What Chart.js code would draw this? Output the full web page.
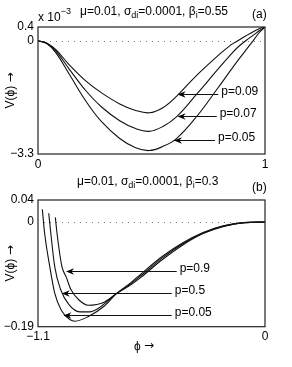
<!DOCTYPE html>
<html><head><meta charset="utf-8">
<script src="https://cdn.jsdelivr.net/npm/chart.js@4.4.1/dist/chart.umd.min.js"></script>
<style>
html,body{margin:0;padding:0;background:#fff;width:292px;height:367px;overflow:hidden}
.w{position:absolute;left:0}
</style></head><body>
<div class="w" style="top:0"><canvas id="ca" width="292" height="172"></canvas></div>
<div class="w" style="top:172px"><canvas id="cb" width="292" height="195"></canvas></div>
<script>
// ---------- Panel (a) data ----------
const phiA = [0, 0.04, 0.08, 0.14, 0.21, 0.28, 0.36, 0.43, 0.49, 0.55, 0.61, 0.7, 0.79, 0.85, 0.88, 0.915, 0.95, 0.975, 1];
const vA_p009 = [0, -0.07, -0.27, -0.72, -1.17, -1.52, -1.84, -2.03, -2.10, -1.95, -1.62, -1.00, -0.45, -0.12, 0.0, 0.14, 0.27, 0.35, 0.4];
const vA_p007 = [0, -0.08, -0.31, -0.85, -1.45, -1.93, -2.33, -2.56, -2.64, -2.50, -2.22, -1.55, -0.85, -0.40, -0.19, 0.0, 0.17, 0.29, 0.4];
const vA_p005 = [0, -0.09, -0.36, -1.00, -1.75, -2.36, -2.85, -3.12, -3.20, -3.08, -2.85, -2.20, -1.40, -0.85, -0.58, -0.28, 0.02, 0.24, 0.4];
const xTicksA = [0, 1];
const xLabelsA = ['0', '1'];
const yTicksA = [-3.3, 0, 0.4];
const yLabelsA = ['\u22123.3', '0', '0.4'];
const labelsA = ['p=0.09', 'p=0.07', 'p=0.05'];
const arrowYA = [-1.56, -2.20, -2.90];
const arrowTipA = [0.615, 0.615, 0.599];
const arrowTailA = [0.794, 0.787, 0.78];

// ---------- Panel (b) data ----------
const phiB_p005 = [-1.079, -1.068, -1.043, -1.019, -0.987, -0.946, -0.92, -0.858, -0.777, -0.72, -0.65, -0.6, -0.5, -0.4, -0.3, -0.2, -0.1, 0];
const vB_p005   = [0.023, -0.02, -0.081, -0.129, -0.160, -0.177, -0.180, -0.172, -0.152, -0.130, -0.110, -0.094, -0.063, -0.038, -0.019, -0.007, -0.001, 0];
const phiB_p05  = [-1.048, -1.038, -1.019, -0.99, -0.95, -0.898, -0.85, -0.809, -0.72, -0.65, -0.6, -0.5, -0.4, -0.3, -0.2, -0.1, 0];
const vB_p05    = [0.016, -0.02, -0.081, -0.123, -0.150, -0.163, -0.163, -0.157, -0.130, -0.112, -0.097, -0.066, -0.040, -0.020, -0.007, -0.001, 0];
const phiB_p09  = [-1.016, -1.008, -0.984, -0.963, -0.94, -0.9, -0.858, -0.777, -0.72, -0.65, -0.6, -0.5, -0.4, -0.3, -0.2, -0.1, 0];
const vB_p09    = [0.0085, -0.02, -0.081, -0.100, -0.123, -0.142, -0.151, -0.145, -0.130, -0.114, -0.100, -0.069, -0.042, -0.021, -0.008, -0.001, 0];
const xTicksB = [-1.1, 0];
const xLabelsB = ['\u22121.1', '0'];
const yTicksB = [-0.19, 0, 0.04];
const yLabelsB = ['\u22120.19', '0', '0.04'];
const labelsB = ['p=0.9', 'p=0.5', 'p=0.05'];
const arrowYB = [-0.0885, -0.129, -0.169];
const arrowTipB = [-0.964, -0.985, -0.977];
const arrowTailB = [-0.428, -0.452, -0.452];

const FONT = "'Liberation Sans', Arial, Helvetica, sans-serif";
const AFONT = "'DejaVu Sans', sans-serif";

function pts(xs, ys){ return xs.map((x,i)=>({x:x, y:ys[i]})); }
function ds(xs, ys, monotone){
  const d = {data: pts(xs, ys), borderColor:'#111', borderWidth:1.1, pointRadius:0, fill:false, tension:0.4};
  if (monotone) d.cubicInterpolationMode = 'monotone';
  return d;
}

function richWidth(ctx, segs){
  let w = 0;
  segs.forEach(s=>{ const size = s.size || (s.sub||s.sup ? 9 : 12); ctx.font = size + 'px ' + (s.font||FONT); w += ctx.measureText(s.t).width; });
  return w;
}
function rich(ctx, x, y, segs){
  let cx = x;
  segs.forEach(s=>{
    const size = s.size || (s.sub||s.sup ? 9 : 12);
    ctx.font = size + 'px ' + (s.font||FONT);
    const dy = s.sub ? 4 : (s.sup ? -6 : 0);
    ctx.fillText(s.t, cx, y + dy);
    cx += ctx.measureText(s.t).width;
  });
}

const extrasPlugin = {
  id:'extras',
  beforeDatasetsDraw(chart){
    const ctx = chart.ctx, a = chart.chartArea, ys = chart.scales.y;
    const y0 = ys.getPixelForValue(0);
    ctx.save();
    ctx.strokeStyle = '#777'; ctx.lineWidth = 1; ctx.setLineDash([1,5]);
    ctx.beginPath(); ctx.moveTo(a.left+6, Math.round(y0)+0.5); ctx.lineTo(a.right, Math.round(y0)+0.5); ctx.stroke();
    ctx.restore();
  },
  afterDraw(chart){
    const ex = chart.options.plugins.extras;
    const ctx = chart.ctx, a = chart.chartArea, xs = chart.scales.x, ys = chart.scales.y;
    ctx.save();
    ctx.strokeStyle = '#222'; ctx.lineWidth = 1.2;
    ctx.strokeRect(a.left, a.top, a.right - a.left, a.bottom - a.top);
    ctx.fillStyle = '#000'; ctx.strokeStyle = '#111'; ctx.lineWidth = 1;
    ex.arrowY.forEach((yv, i)=>{
      const py = Math.round(ys.getPixelForValue(yv)) + 0.5;
      const tip = xs.getPixelForValue(ex.tip[i]);
      const tail = xs.getPixelForValue(ex.tail[i]);
      ctx.beginPath(); ctx.moveTo(tail, py); ctx.lineTo(tip + 5, py); ctx.stroke();
      ctx.beginPath(); ctx.moveTo(tip, py); ctx.lineTo(tip + 8, py - 3.2); ctx.lineTo(tip + 5.5, py); ctx.lineTo(tip + 8, py + 3.2); ctx.closePath(); ctx.fill();
      ctx.font = '12px ' + FONT; ctx.textBaseline = 'middle'; ctx.textAlign = 'left';
      ctx.fillText(ex.labels[i], tail + 3, py - 2.5);
    });
    ctx.textBaseline = 'middle'; ctx.textAlign = 'left';
    rich(ctx, ex.titleX, ex.titleY, ex.title);
    ctx.font = '12px ' + FONT;
    ctx.fillText(ex.tag, 252, ex.tagY);
    if (ex.exp) {
      rich(ctx, 38, 17.5, [{t:'x 10'}, {t:'\u22123', sup:true}]);
    }
    const yl = [{t:'V(\u03D5) '}, {t:'\u2192', font:AFONT, size:12}];
    ctx.save();
    ctx.translate(11, (a.top + a.bottom) / 2);
    ctx.rotate(-Math.PI/2);
    rich(ctx, -richWidth(ctx, yl)/2, 0, yl);
    ctx.restore();
    if (ex.xlabel) {
      const xl = [{t:'\u03D5 '}, {t:'\u2192', font:AFONT, size:12}];
      rich(ctx, 144 - richWidth(ctx, xl)/2, a.bottom + 19.5, xl);
    }
    ctx.restore();
  }
};

function makeChart(id, datasets, xr, yr, xT, xL, yT, yL, xh, top, ex){
  return new Chart(document.getElementById(id), {
    type:'line',
    data:{datasets},
    options:{
      responsive:false, animation:false, events:[],
      layout:{padding:{top:top, right:27, left:0, bottom:0}},
      plugins:{legend:{display:false}, tooltip:{enabled:false}, extras: ex},
      scales:{
        x:{type:'linear', min:xr[0], max:xr[1],
           afterBuildTicks:s=>{ s.ticks = xT.map(v=>({value:v})); },
           ticks:{callback:(v)=>xL[xT.indexOf(v)], font:{family:FONT, size:12}, color:'#000', padding:3, maxRotation:0, autoSkip:false},
           grid:{display:false, drawTicks:false}, border:{display:false},
           afterFit:s=>{ s.height = xh; }},
        y:{type:'linear', min:yr[0], max:yr[1],
           afterBuildTicks:s=>{ s.ticks = yT.map(v=>({value:v})); },
           ticks:{callback:(v)=>yL[yT.indexOf(v)], font:{family:FONT, size:12}, color:'#000', padding:4, autoSkip:false},
           grid:{display:false, drawTicks:false}, border:{display:false},
           afterFit:s=>{ s.width = 38; }}
      }
    },
    plugins:[extrasPlugin]
  });
}

makeChart('ca', [ds(phiA, vA_p009), ds(phiA, vA_p007), ds(phiA, vA_p005)],
  [0,1], [-3.3,0.4], xTicksA, xLabelsA, yTicksA, yLabelsA, 18, 27,
  {labels:labelsA, arrowY:arrowYA, tip:arrowTipA, tail:arrowTailA,
   title:[{t:'\u03BC=0.01, \u03C3'},{t:'di',sub:true},{t:'=0.0001, \u03B2'},{t:'i',sub:true},{t:'=0.55'}],
   titleX:80, titleY:11.5, tag:'(a)', tagY:14.5, exp:true, xlabel:false});

makeChart('cb', [ds(phiB_p005, vB_p005, true), ds(phiB_p05, vB_p05, true), ds(phiB_p09, vB_p09, true)],
  [-1.1,0], [-0.19,0.04], xTicksB, xLabelsB, yTicksB, yLabelsB, 40.3, 28,
  {labels:labelsB, arrowY:arrowYB, tip:arrowTipB, tail:arrowTailB,
   title:[{t:'\u03BC=0.01, \u03C3'},{t:'di',sub:true},{t:'=0.0001, \u03B2'},{t:'i',sub:true},{t:'=0.3'}],
   titleX:77, titleY:9.5, tag:'(b)', tagY:15.5, exp:false, xlabel:true});
</script>
</body></html>
